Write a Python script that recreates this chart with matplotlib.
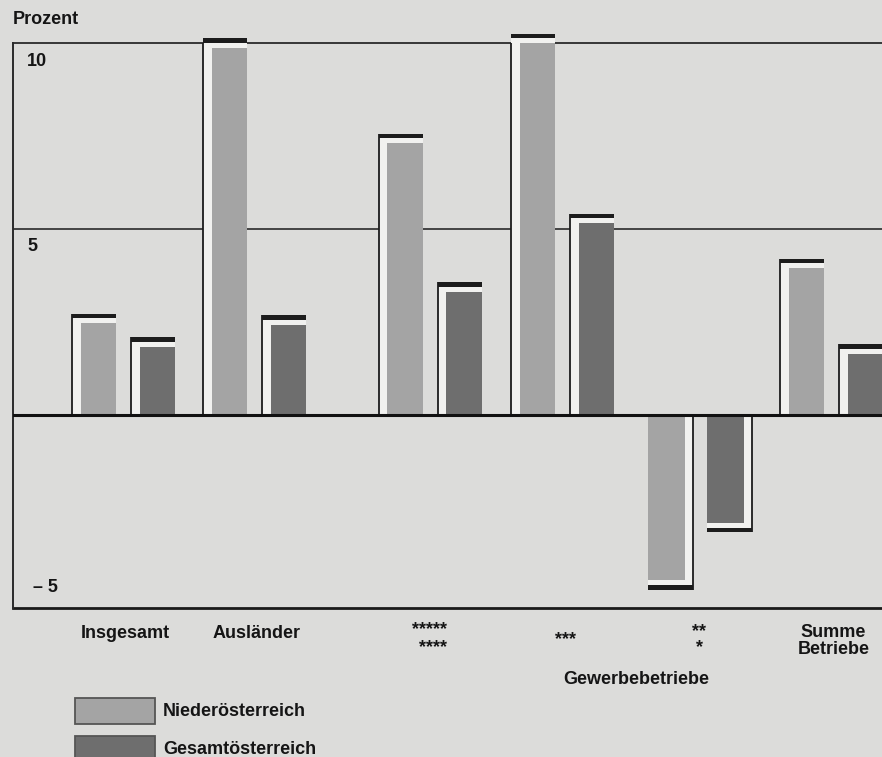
import matplotlib
matplotlib.use("Agg")
import matplotlib.pyplot as plt
from matplotlib.patches import Rectangle

# ---------------- data ----------------
categories = ["Insgesamt", "Ausländer", "*****\n****", "***", "**\n*", "Summe\nBetriebe"]
series = ["Niederösterreich", "Gesamtösterreich"]
noe = [2.47, 9.87, 7.31, 10.0, -4.44, 3.95]
goe = [1.83, 2.42, 3.31, 5.16, -2.90, 1.64]
ytick_values = [10, 5, -5]
ytick_labels = ["10", "5", "– 5"]
y_title = "Prozent"
group_title = "Gewerbebetriebe"

# ---------------- layout / style ----------------
W, H = 882, 757
BG = "#dcdcda"
WHITE = "#f1f1ef"
CAP = "#1c1c1c"
C_NOE = "#a4a4a4"
C_GOE = "#6e6e6e"
FONT = dict(family=["Liberation Sans", "DejaVu Sans"], weight="bold", size=13, color="#151515")

group_centers = [123.5, 254.5, 430, 562.5, 699, 831.5]   # horizontal slots (px units)
AX_L, AX_R, AX_T, AX_B = 13, 900, 43, 608
YMAX, YMIN = 10, -5.19

fig = plt.figure(figsize=(W / 100, H / 100), dpi=100)
fig.patch.set_facecolor(BG)
ax = fig.add_axes([AX_L / W, (H - AX_B) / H, (AX_R - AX_L) / W, (AX_B - AX_T) / H])
ax.set_xlim(AX_L, AX_R)
ax.set_ylim(YMIN, YMAX)
ax.axis("off")

py = (YMAX - YMIN) / (AX_B - AX_T)   # data units per pixel (vertical)

# frame & grid lines (behind the bars)
ax.axhline(YMAX, color="#2a2a2a", lw=1.3, zorder=1, clip_on=False)
ax.axhline(5, color="#2a2a2a", lw=1.2, zorder=1)
ax.axhline(YMIN, color="#1a1a1a", lw=2.0, zorder=1, clip_on=False)
ax.axvline(AX_L, color="#2a2a2a", lw=1.4, zorder=1, clip_on=False)

gap = 5 * py
cap = 4.5 * py
box_w = 44
for g, c in enumerate(group_centers):
    for j, (vals, col) in enumerate([(noe, C_NOE), (goe, C_GOE)]):
        v = vals[g]
        left = c - 51.5 + 59 * j
        if v >= 0:
            ax.bar(left, v + gap + cap, width=box_w, align="edge", color=WHITE,
                   lw=0, zorder=2, clip_on=False)
            ax.bar(left + 8.5, v, width=box_w - 8.5, align="edge", color=col,
                   lw=0, zorder=3, clip_on=False)
            ax.bar(left, cap, bottom=v + gap, width=box_w, align="edge", color=CAP,
                   lw=0, zorder=3, clip_on=False)
            ax.vlines(left, 0, v + gap + cap, color=CAP, lw=1.3, zorder=3.5)
        else:
            ax.bar(left, v - gap - cap, width=box_w + 1, align="edge", color=WHITE,
                   lw=0, zorder=2, clip_on=False)
            ax.bar(left, v, width=37, align="edge", color=col,
                   lw=0, zorder=3, clip_on=False)
            ax.bar(left, -cap, bottom=v - gap, width=box_w + 1, align="edge", color=CAP,
                   lw=0, zorder=3, clip_on=False)
            ax.vlines(left + box_w + 1, 0, v - gap - cap, color=CAP, lw=1.3, zorder=3.5)

ax.axhline(0, color="#111111", lw=2.2, zorder=5)

# ---------------- texts ----------------
def ftext(x, y, s, **kw):
    fig.text(x / W, 1 - y / H, s, **FONT, **kw)

ftext(13, 20, y_title, ha="left", va="center")
for v, lab, xpx, ypx in zip(ytick_values, ytick_labels, [27, 27, 33], [62, 246, 588]):
    ftext(xpx, ypx, lab, ha="left", va="center")

# category labels (multi-line: baseline = last line)
ftext(group_centers[0] + 2, 634, categories[0], ha="center", va="center")
ftext(group_centers[1] + 2, 634, categories[1], ha="center", va="center")
ftext(group_centers[2] + 17, 652, categories[2], ha="right", va="baseline",
      multialignment="right", linespacing=1.04)
ftext(group_centers[3] + 3, 644, categories[3], ha="center", va="baseline")
ftext(group_centers[4], 652, categories[4], ha="center", va="baseline",
      multialignment="center", linespacing=0.92)
ftext(group_centers[5] + 2, 654, categories[5], ha="center", va="baseline",
      multialignment="center", linespacing=0.98)
ftext(636, 680, group_title, ha="center", va="center")

# legend
for k, (name, col) in enumerate(zip(series, [C_NOE, C_GOE])):
    top = 698 + 38 * k
    fig.patches.append(Rectangle((75 / W, 1 - (top + 26) / H), 80 / W, 26 / H,
                                 transform=fig.transFigure, facecolor=col,
                                 edgecolor="#555555", lw=1.3))
    ftext(163, top + 14, name, ha="left", va="center")

fig.savefig("out.png", dpi=100, facecolor=BG)
